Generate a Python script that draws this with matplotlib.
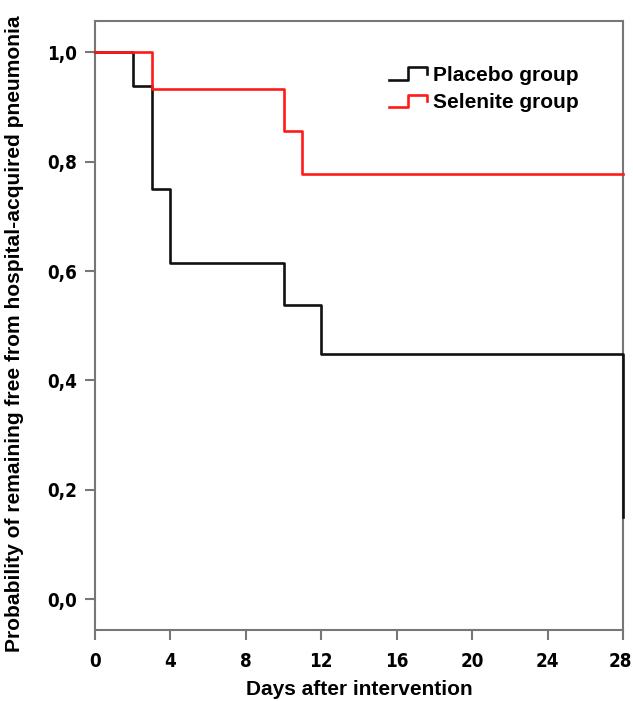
import matplotlib
matplotlib.use("Agg")
import matplotlib.pyplot as plt
from matplotlib import transforms
from matplotlib.legend_handler import HandlerBase
from matplotlib.lines import Line2D

# Kaplan-Meier estimates (day, probability)
placebo_days = [0, 2, 3, 4, 10, 12, 28]
placebo_surv = [1.0, 0.9375, 0.75, 0.614, 0.538, 0.448, 0.151]
selenite_days = [0, 3, 10, 11, 28]
selenite_surv = [1.0, 0.933, 0.856, 0.778, 0.778]

x_ticks = [0, 4, 8, 12, 16, 20, 24, 28]
y_ticks = [0.0, 0.2, 0.4, 0.6, 0.8, 1.0]
series_labels = ["Placebo group", "Selenite group"]
series_colors = ["#111111", "#ff1a1a"]

SPINE = "#777777"
WIDE = ["Liberation Sans", "DejaVu Sans"]


class StepHandler(HandlerBase):
    """little step icon like the SPSS survival legend"""
    def create_artists(self, legend, orig_handle, xdescent, ydescent,
                       width, height, fontsize, trans):
        x0, y0 = -xdescent, -ydescent
        xs = [x0, x0 + 0.5 * width, x0 + 0.5 * width, x0 + width, x0 + width]
        ys = [y0 + 0.1 * height, y0 + 0.1 * height, y0 + 0.95 * height,
              y0 + 0.95 * height, y0 + 0.5 * height]
        ln = Line2D(xs, ys, color=orig_handle.get_color(),
                    linewidth=orig_handle.get_linewidth(), transform=trans)
        return [ln]


fig = plt.figure(figsize=(6.33, 7.01), dpi=100)
ax = fig.add_axes([95 / 633, 1 - 630 / 701, 528 / 633, 609 / 701])

h1, = ax.step(placebo_days, placebo_surv, where="post", color=series_colors[0],
              lw=1.9, zorder=3, clip_on=False)
h2, = ax.step(selenite_days, selenite_surv, where="post", color=series_colors[1],
              lw=1.9, zorder=3, clip_on=False)

tick_font = dict(family="DejaVu Sans", fontstretch="condensed", fontweight="bold",
                 fontsize=13.5)
ax.set_xlim(0, 28)
ax.set_ylim(-0.056, 1.057)
ax.set_xticks(x_ticks)
ax.set_xticklabels([str(t) for t in x_ticks], **tick_font)
ax.set_yticks(y_ticks)
ax.set_yticklabels([f"{t:.1f}".replace(".", ",") for t in y_ticks], **tick_font)
ax.tick_params(axis="x", length=7, width=1.5, color=SPINE, pad=9)
ax.tick_params(axis="y", length=7, width=1.5, color=SPINE, pad=6)
for sp in ax.spines.values():
    sp.set_color(SPINE)
    sp.set_linewidth(1.5)

# last x label sits right on the figure edge, pull it in a hair
last = ax.get_xticklabels()[-1]
last.set_transform(last.get_transform() +
                   transforms.ScaledTranslation(-3 / 100, 0, fig.dpi_scale_trans))

ax.set_xlabel("Days after intervention", family=WIDE, fontweight="bold", fontsize=15)
ax.set_ylabel("Probability of remaining free from hospital-acquired pneumonia",
              family=WIDE, fontweight="bold", fontsize=15.1)
ax.xaxis.set_label_coords(0.5, -0.082)
ax.yaxis.set_label_coords(-0.135, 0.486)

leg = ax.legend([h1, h2], series_labels, loc="upper left",
                bbox_to_anchor=(0.538, 0.943), frameon=False, borderpad=0,
                handlelength=1.8, handletextpad=0.3, labelspacing=0.4,
                handler_map={Line2D: StepHandler()},
                prop={"family": WIDE, "weight": "bold", "size": 15})

fig.savefig("out.png", dpi=100, facecolor="white")
